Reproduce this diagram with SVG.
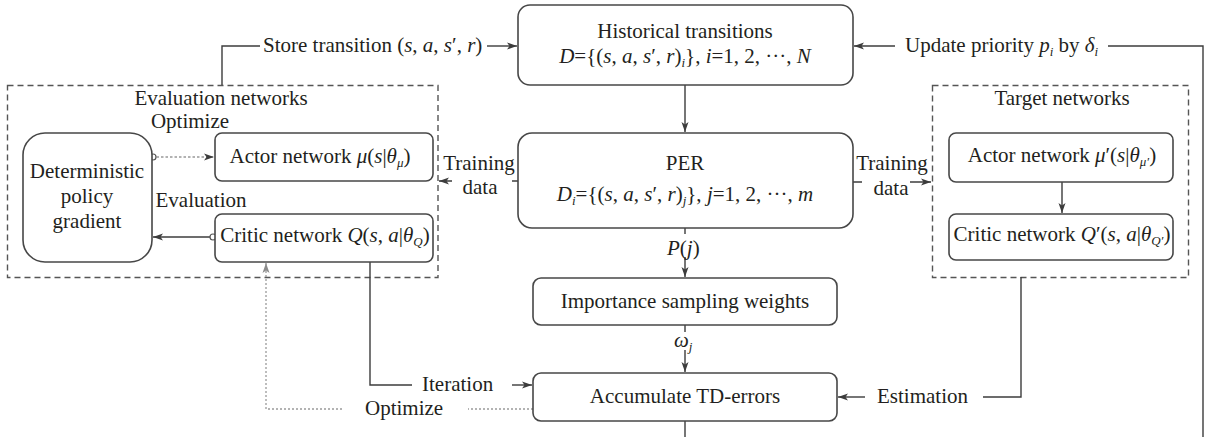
<svg xmlns="http://www.w3.org/2000/svg" width="1208" height="437" viewBox="0 0 1208 437">
  <defs>
    <marker id="ah" markerUnits="userSpaceOnUse" markerWidth="12" markerHeight="9" refX="10" refY="4.5" orient="auto">
      <path d="M0,1 L10,4.5 L0,8 L2.5,4.5 Z" fill="#3c3c3c"/>
    </marker>
    <marker id="ahg" markerUnits="userSpaceOnUse" markerWidth="12" markerHeight="9" refX="10" refY="4.5" orient="auto">
      <path d="M0,1 L10,4.5 L0,8 L2.5,4.5 Z" fill="#8a8a8a"/>
    </marker>
  </defs>
  <style>
    text{font-family:"Liberation Serif","Times New Roman",serif;font-size:21px;fill:#231f20}
    .m{text-anchor:middle}
    .i{font-style:italic}
    .s{font-size:13px}
    .box{fill:#fff;stroke:#474747;stroke-width:1.6}
    .grp{fill:none;stroke:#555;stroke-width:1.4;stroke-dasharray:6 4}
    .ln{fill:none;stroke:#3c3c3c;stroke-width:1.4}
    .dt{fill:none;stroke:#9a9a9a;stroke-width:1.3;stroke-dasharray:2 2}
    .dk{fill:none;stroke:#666;stroke-width:1.2;stroke-dasharray:2.5 2}
    .bg{fill:#fff}
    .knob{fill:#fff;stroke:#555;stroke-width:1.2}
  </style>

  <!-- network groups -->
  <g id="evaluation-networks">
    <rect class="grp" x="7.5" y="85.5" width="430.5" height="192"/>
    <text class="m" x="221" y="105">Evaluation networks</text>
  </g>
  <g id="target-networks">
    <rect class="grp" x="932.5" y="85.5" width="256" height="192"/>
    <text class="m" x="1062" y="105">Target networks</text>
  </g>

  <!-- connectors -->
  <g id="connectors">
    <path class="ln" d="M685,85 V132" marker-end="url(#ah)"/>
    <path class="ln" d="M685,228 V277" marker-end="url(#ah)"/>
    <path class="ln" d="M685,325 V372" marker-end="url(#ah)"/>
    <path class="ln" d="M685,421 V437"/>
    <!-- store transition -->
    <path class="ln" d="M222,85 V46 H260"/>
    <path class="ln" d="M487,46 H517" marker-end="url(#ah)"/>
    <!-- update priority loop -->
    <path class="ln" d="M1108,46 H1203 V437"/>
    <path class="ln" d="M895,46 H854" marker-end="url(#ah)"/>
    <!-- training data -->
    <path class="ln" d="M518,181 H439" marker-end="url(#ah)"/>
    <path class="ln" d="M853,182 H931" marker-end="url(#ah)"/>
    <!-- inside evaluation networks -->
    <path class="dk" d="M152,157 H214" marker-end="url(#ah)"/>
    <path class="ln" d="M213,237 H153" marker-end="url(#ah)"/>
    <circle class="knob" cx="153" cy="157" r="3"/>
    <circle class="knob" cx="213" cy="237" r="3"/>
    <!-- target actor to target critic -->
    <path class="ln" d="M1062,182 V213" marker-end="url(#ah)"/>
    <!-- iteration -->
    <path class="ln" d="M370,262 V385 H412"/>
    <path class="ln" d="M512,385 H532" marker-end="url(#ah)"/>
    <!-- optimize (dotted) -->
    <path class="dt" d="M533,409 H468"/>
    <path class="dt" d="M342,409 H266 V263" marker-end="url(#ahg)"/>
    <!-- estimation -->
    <path class="ln" d="M1021,277 V397 H983"/>
    <path class="ln" d="M865,397 H838" marker-end="url(#ah)"/>

    <!-- connector labels -->
    <text x="263" y="52">Store transition (<tspan class="i">s</tspan>, <tspan class="i">a</tspan>, <tspan class="i">s</tspan>′, <tspan class="i">r</tspan>)</text>
    <text x="905" y="52">Update priority <tspan class="i">p</tspan><tspan class="s i" dy="4">i</tspan><tspan dy="-4"> by </tspan><tspan class="i">δ</tspan><tspan class="s i" dy="4">i</tspan></text>
    <rect class="bg" x="452" y="160" width="60" height="40"/>
    <text class="m" x="479" y="170">Training</text>
    <text class="m" x="480" y="194">data</text>
    <rect class="bg" x="862" y="160" width="48" height="40"/>
    <text class="m" x="892" y="170">Training</text>
    <text class="m" x="891" y="195">data</text>
    <text x="190" y="128" class="m">Optimize</text>
    <text x="201" y="207" class="m">Evaluation</text>
    <rect class="bg" x="665" y="234" width="40" height="23"/>
    <text x="667" y="255"><tspan class="i">P</tspan>(<tspan class="i">j</tspan>)</text>
    <rect class="bg" x="672" y="332" width="22" height="18"/>
    <text x="674" y="347"><tspan class="i">ω</tspan><tspan class="s i" dy="4">j</tspan></text>
    <text x="422" y="391">Iteration</text>
    <text x="365" y="415">Optimize</text>
    <text x="877" y="403">Estimation</text>
  </g>

  <!-- nodes -->
  <g id="historical-transitions">
    <rect class="box" x="518" y="5" width="335" height="80" rx="12"/>
    <text class="m" x="685" y="38">Historical transitions</text>
    <text class="m" x="685" y="63"><tspan class="i">D</tspan>={(<tspan class="i">s</tspan>, <tspan class="i">a</tspan>, <tspan class="i">s</tspan>′, <tspan class="i">r</tspan>)<tspan class="s i" dy="4">i</tspan><tspan dy="-4">}, </tspan><tspan class="i">i</tspan>=1, 2, ···, <tspan class="i">N</tspan></text>
  </g>
  <g id="per">
    <rect class="box" x="518" y="133" width="335" height="95" rx="14"/>
    <text class="m" x="685" y="170">PER</text>
    <text class="m" x="685" y="201"><tspan class="i">D</tspan><tspan class="s i" dy="4">i</tspan><tspan dy="-4">={(</tspan><tspan class="i">s</tspan>, <tspan class="i">a</tspan>, <tspan class="i">s</tspan>′, <tspan class="i">r</tspan>)<tspan class="s i" dy="4">j</tspan><tspan dy="-4">}, </tspan><tspan class="i">j</tspan>=1, 2, ···, <tspan class="i">m</tspan></text>
  </g>
  <g id="importance-sampling-weights">
    <rect class="box" x="533" y="278" width="304" height="47" rx="8"/>
    <text class="m" x="685" y="308">Importance sampling weights</text>
  </g>
  <g id="accumulate-td-errors">
    <rect class="box" x="533" y="373" width="304" height="48" rx="8"/>
    <text class="m" x="685" y="403">Accumulate TD-errors</text>
  </g>
  <g id="deterministic-policy-gradient">
    <rect class="box" x="23" y="133" width="129" height="129" rx="22"/>
    <text class="m" x="87" y="178">Deterministic</text>
    <text class="m" x="87" y="203">policy</text>
    <text class="m" x="87" y="228">gradient</text>
  </g>
  <g id="actor-network">
    <rect class="box" x="215" y="133" width="218" height="48" rx="7"/>
    <text class="m" x="320" y="163">Actor network <tspan class="i">μ</tspan>(<tspan class="i">s</tspan>|<tspan class="i">θ</tspan><tspan class="s i" dy="4">μ</tspan><tspan dy="-4">)</tspan></text>
  </g>
  <g id="critic-network">
    <rect class="box" x="215" y="214" width="218" height="48" rx="7"/>
    <text class="m" x="325" y="242">Critic network <tspan class="i">Q</tspan>(<tspan class="i">s</tspan>, <tspan class="i">a</tspan>|<tspan class="i">θ</tspan><tspan class="s i" dy="4">Q</tspan><tspan dy="-4">)</tspan></text>
  </g>
  <g id="target-actor-network">
    <rect class="box" x="949" y="133" width="224" height="49" rx="7"/>
    <text class="m" x="1062" y="162">Actor network <tspan class="i">μ</tspan>′(<tspan class="i">s</tspan>|<tspan class="i">θ</tspan><tspan class="s i" dy="4">μ′</tspan><tspan dy="-4">)</tspan></text>
  </g>
  <g id="target-critic-network">
    <rect class="box" x="949" y="214" width="224" height="46" rx="7"/>
    <text class="m" x="1062" y="241">Critic network <tspan class="i">Q</tspan>′(<tspan class="i">s</tspan>, <tspan class="i">a</tspan>|<tspan class="i">θ</tspan><tspan class="s i" dy="4">Q′</tspan><tspan dy="-4">)</tspan></text>
  </g>
</svg>
